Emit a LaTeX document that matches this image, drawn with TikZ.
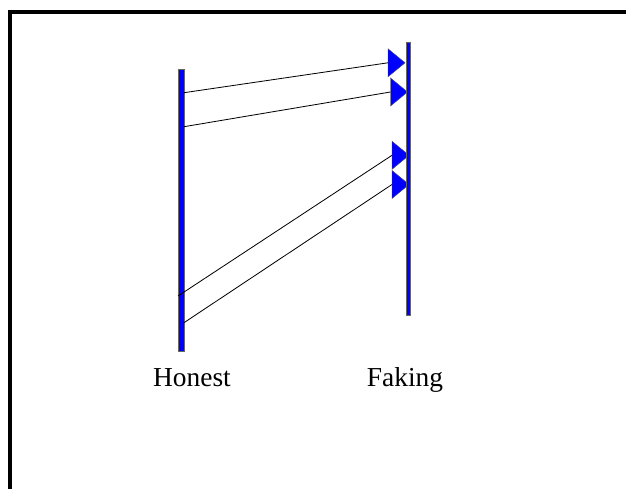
\documentclass[tikz,border=0pt]{standalone}
\usepackage{fontspec}
\setmainfont{Liberation Serif}
\usetikzlibrary{calc}

\tikzset{
  bar/.style={fill=blue,draw=black!60,line width=0.4pt},
  head/.style={fill=blue,draw=black!70,line width=0.4pt,line join=miter},
  msg/.style={line width=0.7pt},
  who/.style={anchor=base,font=\fontsize{23.4}{28}\selectfont}
}

\begin{document}
\begin{tikzpicture}[x=0.03cm,y=-0.03cm]
  \useasboundingbox (0,0) rectangle (626,489);
  % frame, only top and left edges show
  \coordinate (corner) at (10,12);
  \draw[line width=3.4pt] (10,489) -- (corner) -- (626,12);
  % honest time line
  \filldraw[bar] (178,69) rectangle (184,351);
  % message ends
  \coordinate (h1) at (184,92.7);
  \coordinate (h2) at (184,126.7);
  \coordinate (h3) at (178,296);
  \coordinate (h4) at (183.5,323);
  \coordinate (f1) at (388,62.8);
  \coordinate (f2) at (390.5,92);
  \coordinate (f3) at (392,155.3);
  \coordinate (f4) at (392,184.5);
  \foreach \i in {1,...,4}
    \draw[msg] (h\i) -- (f\i);
  \foreach \i in {1,...,4}
    \filldraw[head] (f\i) -- ++(0,-14) -- ++(17,14) -- ++(-17,14) -- cycle;
  % faking time line
  \filldraw[bar] (406,42) rectangle (410,315);
  \node[who] (honest) at (192,386.7) {Honest};
  \node[who] (faking) at (405,386.7) {Faking};
\end{tikzpicture}
\end{document}
